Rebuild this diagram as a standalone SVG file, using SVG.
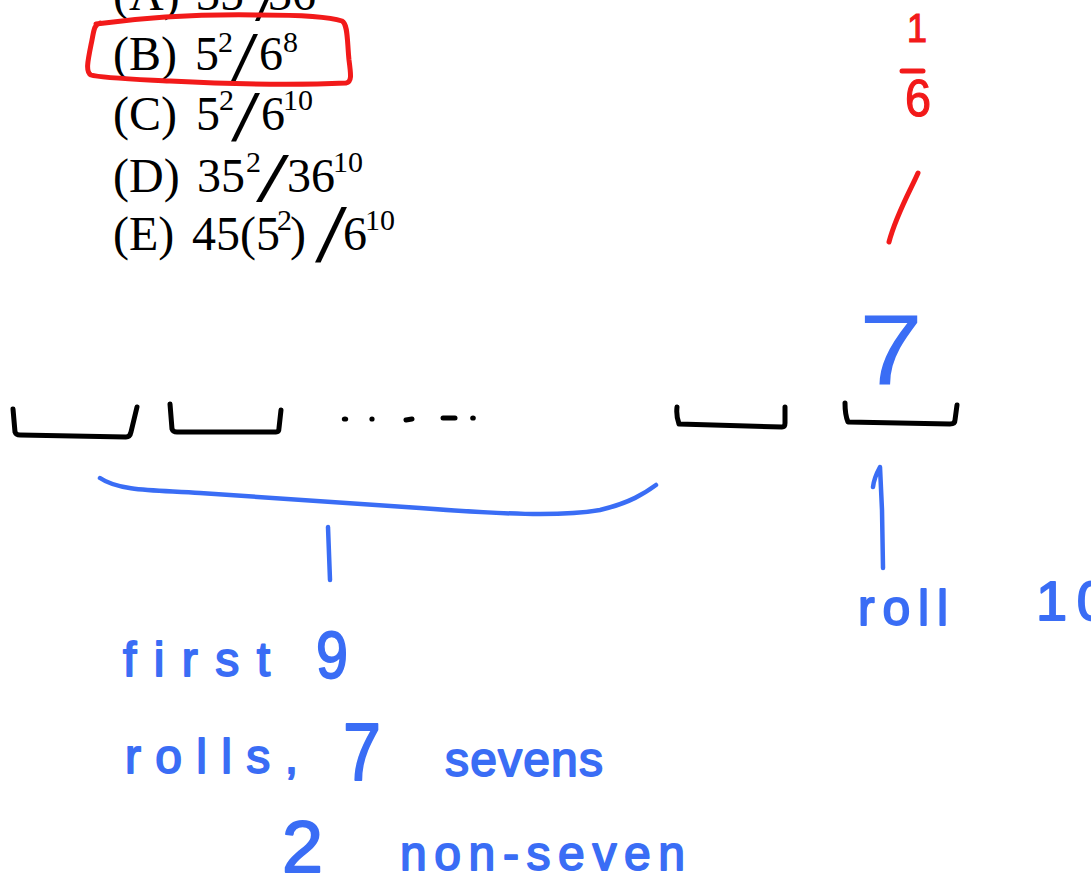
<svg xmlns="http://www.w3.org/2000/svg" width="1091" height="876" viewBox="0 0 1091 876">
<style>
.tx{font-family:"Liberation Serif","Times New Roman",serif;fill:#000}
.big{font-size:48px}
.sup{font-size:30px}
.hw{font-family:"Liberation Sans",Arial,sans-serif;fill:#3a6df5;stroke:#3a6df5;stroke-width:1.8;stroke-linejoin:round}
.hr{font-family:"Liberation Sans",Arial,sans-serif;fill:#f21a1a;stroke:#f21a1a;stroke-width:1.2}
.ink{fill:none;stroke:#000;stroke-width:5;stroke-linecap:round;stroke-linejoin:round}
.blue{fill:none;stroke:#3a6df5;stroke-width:4.5;stroke-linecap:round;stroke-linejoin:round}
.red{fill:none;stroke:#f21a1a;stroke-width:5;stroke-linecap:round;stroke-linejoin:round}
</style>
<rect width="1091" height="876" fill="#fff"/>

<g id="choice-a">
<text class="tx big" x="113" y="10">(A)</text>
<text class="tx big" x="196" y="10">35</text>
<text class="tx" font-size="70" x="255" y="20" textLength="25" lengthAdjust="spacingAndGlyphs">/</text>
<text class="tx big" x="268" y="10">36</text>
</g>
<g id="choice-b">
<text class="tx big" x="113" y="70">(B)</text>
<text class="tx big" x="195" y="70">5</text>
<text class="tx sup" x="218" y="52">2</text>
<text class="tx" font-size="70" x="231" y="80" textLength="27" lengthAdjust="spacingAndGlyphs">/</text>
<text class="tx big" x="259" y="70">6</text>
<text class="tx sup" x="283" y="52">8</text>
</g>
<g id="choice-c">
<text class="tx big" x="113" y="130">(C)</text>
<text class="tx big" x="196" y="130">5</text>
<text class="tx sup" x="219" y="110">2</text>
<text class="tx" font-size="72" x="231" y="140" textLength="29" lengthAdjust="spacingAndGlyphs">/</text>
<text class="tx big" x="261" y="130">6</text>
<text class="tx sup" x="283" y="110">10</text>
</g>
<g id="choice-d">
<text class="tx big" x="113" y="192">(D)</text>
<text class="tx big" x="197" y="192">35</text>
<text class="tx sup" x="246" y="172">2</text>
<text class="tx" font-size="70" x="256" y="201" textLength="33" lengthAdjust="spacingAndGlyphs">/</text>
<text class="tx big" x="287" y="192">36</text>
<text class="tx sup" x="333" y="172">10</text>
</g>
<g id="choice-e">
<text class="tx big" x="113" y="250">(E)</text>
<text class="tx big" x="192" y="250">45(5</text>
<text class="tx sup" x="277" y="230">2</text>
<text class="tx big" x="290" y="250">)</text>
<text class="tx" font-size="82" x="315" y="261" textLength="32" lengthAdjust="spacingAndGlyphs">/</text>
<text class="tx big" x="343" y="250">6</text>
<text class="tx sup" x="365" y="230">10</text>
</g>

<g id="answer-circle">
<path class="red" d="M96,24 C140,18 200,14 260,15 C300,15 330,17 342,21 C348,24 347,40 349,60 C351,75 352,82 346,83 C300,85 230,84 170,81 C130,79 100,78 91,75 C85,72 88,60 92,40 C94,30 94,25 100,23"/>
</g>

<g id="red-notes">
<text class="hr" font-size="40" x="907" y="42" textLength="20" lengthAdjust="spacingAndGlyphs">1</text>
<path class="red" d="M902,71 L923,71"/>
<text class="hr" font-size="52" x="905" y="116" textLength="26" lengthAdjust="spacingAndGlyphs">6</text>
<path class="red" d="M918,173 C912,187 896,215 889,242"/>
</g>

<g id="seven-top">
<text class="hw" font-size="100" x="859" y="385" textLength="64" lengthAdjust="spacingAndGlyphs" style="stroke-width:0">7</text>
</g>

<g id="slots">
<path class="ink" d="M13,409 L15,432 Q16,435 20,435 L126,437 Q130,437 131,432 L137,407"/>
<path class="ink" d="M170,404 L172,429 Q173,432 177,432 L276,432 Q279,432 279,428 L281,410"/>
<ellipse cx="345" cy="419" rx="3.2" ry="2.6"/>
<ellipse cx="372" cy="419" rx="2.6" ry="2.6"/>
<path class="ink" d="M406,420 L412,419"/>
<path class="ink" d="M443,418 L455,418"/>
<ellipse cx="473" cy="418" rx="2.8" ry="2.6"/>
<path class="ink" d="M677,407 Q676,416 679,424 L782,427 Q785,427 785,423 L785,407"/>
<path class="ink" d="M845,403 Q845,415 848,422 L950,424 Q955,424 955,420 L957,405"/>
</g>

<g id="connectors">
<path class="blue" d="M100,478 C120,492 160,490 200,493 L420,508 C500,514 560,517 600,510 C630,503 645,493 656,485"/>
<path class="blue" d="M328,527 L330,580"/>
<path class="blue" d="M873,487 Q874,478 880,467 L882,510 L883,568"/>
</g>

<g id="label-first">
<text class="hw" font-size="48" x="123" y="676" textLength="147" lengthAdjust="spacing">first</text>
<text class="hw" font-size="66" x="316" y="678" textLength="32" lengthAdjust="spacingAndGlyphs">9</text>
<text class="hw" font-size="48" x="125" y="773" textLength="173" lengthAdjust="spacing">rolls,</text>
<text class="hw" font-size="82" x="343" y="780" textLength="38" lengthAdjust="spacingAndGlyphs">7</text>
<text class="hw" font-size="48" x="445" y="776" textLength="158" lengthAdjust="spacing">sevens</text>
<text class="hw" font-size="72" x="282" y="872" textLength="41" lengthAdjust="spacingAndGlyphs">2</text>
<text class="hw" font-size="48" x="400" y="870" textLength="285" lengthAdjust="spacing">non-seven</text>
</g>

<g id="label-roll">
<text class="hw" font-size="50" x="858" y="625" textLength="90" lengthAdjust="spacing">roll</text>
<text class="hw" font-size="56" x="1036" y="620" textLength="72" lengthAdjust="spacing">10</text>
</g>
</svg>
